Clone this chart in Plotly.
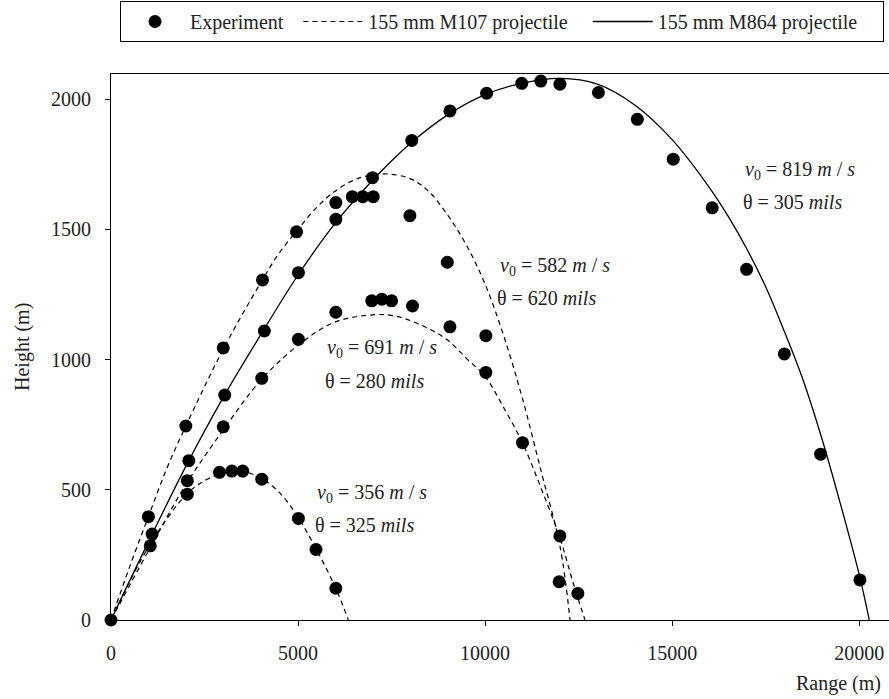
import plotly.graph_objects as go

# ---------------- data ----------------
exp_x = [0, 1000, 1100, 1050, 2000, 2080, 2040, 2040, 3000, 3040, 3000, 2900, 3230, 3520,
         4030, 4030, 4050, 4100, 4960, 5010, 5010, 5010, 6010, 6010, 6450, 6730, 7010, 6990,
         8040, 9060, 10040, 10980, 11490, 12000, 7990, 8990, 6010, 6970, 7240, 7500, 8060,
         9060, 10020, 10020, 11000, 12000, 11980, 12480, 5480, 6010, 13030, 14070, 15030,
         16070, 16990, 18000, 18970, 20020]
exp_y = [0, 397, 330, 285, 745, 612, 535, 483, 1045, 864, 742, 567, 572, 572,
         541, 928, 1306, 1110, 1491, 1334, 1078, 390, 1603, 1539, 1626, 1626, 1626, 1699,
         1842, 1955, 2023, 2061, 2070, 2058, 1553, 1374, 1182, 1226, 1232, 1226, 1206,
         1126, 1092, 951, 681, 323, 147, 102, 271, 122, 2026, 1923, 1770,
         1583, 1347, 1022, 637, 154]

# 155 mm M864 projectile (v0 = 819 m/s, 305 mils)
m864_x = [0, 1000, 2000, 3000, 4000, 5000, 6000, 7000, 8000, 9000, 10000, 11000, 12000,
          13000, 14000, 15000, 16000, 16500, 17000, 17500, 18000, 18500, 19000, 19500,
          20000, 20270]
m864_y = [0, 300, 590, 855, 1095, 1325, 1525, 1690, 1830, 1940, 2018, 2062, 2080,
          2058, 1978, 1845, 1660, 1550, 1424, 1280, 1108, 922, 698, 445, 175, 0]

# 155 mm M107 projectile, v0 = 582 m/s, 620 mils
m107a_x = [0, 500, 1000, 1500, 2000, 3000, 4000, 4500, 5000, 5500, 6000, 6500, 7000, 7400,
           8000, 8500, 9000, 9500, 10000, 10500, 11000, 11500, 12000, 12270]
m107a_y = [0, 205, 397, 585, 745, 1040, 1295, 1410, 1500, 1585, 1648, 1690, 1710, 1713,
           1695, 1645, 1555, 1440, 1290, 1090, 850, 570, 285, 0]

# 155 mm M107 projectile, v0 = 691 m/s, 280 mils
m107b_x = [0, 1000, 2000, 3000, 4000, 5000, 6000, 7000, 7500, 8000, 8500, 9000, 9500,
           10000, 10500, 11000, 11500, 12000, 12350, 12670]
m107b_y = [0, 265, 520, 730, 920, 1055, 1145, 1172, 1170, 1150, 1118, 1075, 1005,
           935, 815, 680, 505, 315, 145, 0]

# 155 mm M107 projectile, v0 = 356 m/s, 325 mils
m107c_x = [0, 1000, 2000, 2500, 3000, 3400, 4000, 4500, 5000, 5500, 6000, 6344]
m107c_y = [0, 280, 480, 535, 565, 575, 545, 490, 395, 268, 125, 0]

x_ticks = [0, 5000, 10000, 15000, 20000]
y_ticks = [0, 500, 1000, 1500, 2000]

labels = [
    ("<i>v</i><sub>0</sub> = 582 <i>m</i> / <i>s</i>", 10345, 1359),
    ("θ = 620 <i>mils</i>", 10265, 1237),
    ("<i>v</i><sub>0</sub> = 691 <i>m</i> / <i>s</i>", 5720, 1041),
    ("θ = 280 <i>mils</i>", 5667, 918),
    ("<i>v</i><sub>0</sub> = 356 <i>m</i> / <i>s</i>", 5453, 484),
    ("θ = 325 <i>mils</i>", 5400, 365),
    ("<i>v</i><sub>0</sub> = 819 <i>m</i> / <i>s</i>", 16894, 1728),
    ("θ = 305 <i>mils</i>", 16840, 1605),
]

FONT = "Liberation Serif"
dash = "5px,4px"
NB = "\u00a0"

fig = go.Figure()
fig.add_trace(go.Scatter(x=exp_x, y=exp_y, mode="markers", name="Experiment" + NB * 2,
                         marker=dict(color="black", size=13), cliponaxis=False))
fig.add_trace(go.Scatter(x=m107a_x, y=m107a_y, mode="lines",
                         name="155 mm M107 projectile" + NB * 3,
                         line=dict(color="black", width=1.2, dash=dash, shape="spline"),
                         legendgroup="m107"))
fig.add_trace(go.Scatter(x=m107b_x, y=m107b_y, mode="lines", name="155 mm M107 projectile",
                         line=dict(color="black", width=1.2, dash=dash, shape="spline"),
                         legendgroup="m107", showlegend=False))
fig.add_trace(go.Scatter(x=m107c_x, y=m107c_y, mode="lines", name="155 mm M107 projectile",
                         line=dict(color="black", width=1.2, dash=dash, shape="spline"),
                         legendgroup="m107", showlegend=False))
fig.add_trace(go.Scatter(x=m864_x, y=m864_y, mode="lines",
                         name="155 mm M864 projectile" + NB * 4,
                         line=dict(color="black", width=1.3, shape="spline")))

for txt, lx, ly in labels:
    fig.add_annotation(x=lx, y=ly, xref="x", yref="y", text=txt, showarrow=False,
                       xanchor="left", yanchor="middle",
                       font=dict(family=FONT, size=20, color="#222"))

fig.add_annotation(x=0, y=0.5, xref="paper", yref="paper", xshift=-89, text="Height (m)",
                   textangle=-90, showarrow=False, xanchor="center", yanchor="middle",
                   font=dict(family=FONT, size=20, color="#222"))
fig.add_annotation(x=1, y=0, xref="paper", yref="paper", xshift=-6, yshift=-63,
                   text="Range (m)", showarrow=False, xanchor="right", yanchor="middle",
                   font=dict(family=FONT, size=20, color="#222"))

fig.update_layout(
    width=889, height=699,
    margin=dict(l=111, r=0, t=74, b=79),
    paper_bgcolor="white", plot_bgcolor="white",
    font=dict(family=FONT, size=20, color="#222"),
    showlegend=True,
    legend=dict(orientation="h", x=0.0116, y=1.1337, xanchor="left", yanchor="top",
                bordercolor="black", borderwidth=1, bgcolor="white",
                itemwidth=60, font=dict(family=FONT, size=20, color="#222")),
    xaxis=dict(range=[0, 20797], tickvals=x_ticks, ticktext=[str(v) for v in x_ticks],
               showline=True, linecolor="black", linewidth=1, mirror=True,
               ticks="outside", ticklen=5, tickcolor="black", showgrid=False,
               zeroline=False, ticklabelstandoff=10),
    yaxis=dict(range=[0, 2097], tickvals=y_ticks, ticktext=[str(v) for v in y_ticks],
               showline=True, linecolor="black", linewidth=1, mirror=False,
               ticks="outside", ticklen=5, tickcolor="black", showgrid=False,
               zeroline=False, ticklabelstandoff=10),
)

fig.write_html("out.html", config={"displayModeBar": False},
               post_script="document.body.style.margin='0';")
